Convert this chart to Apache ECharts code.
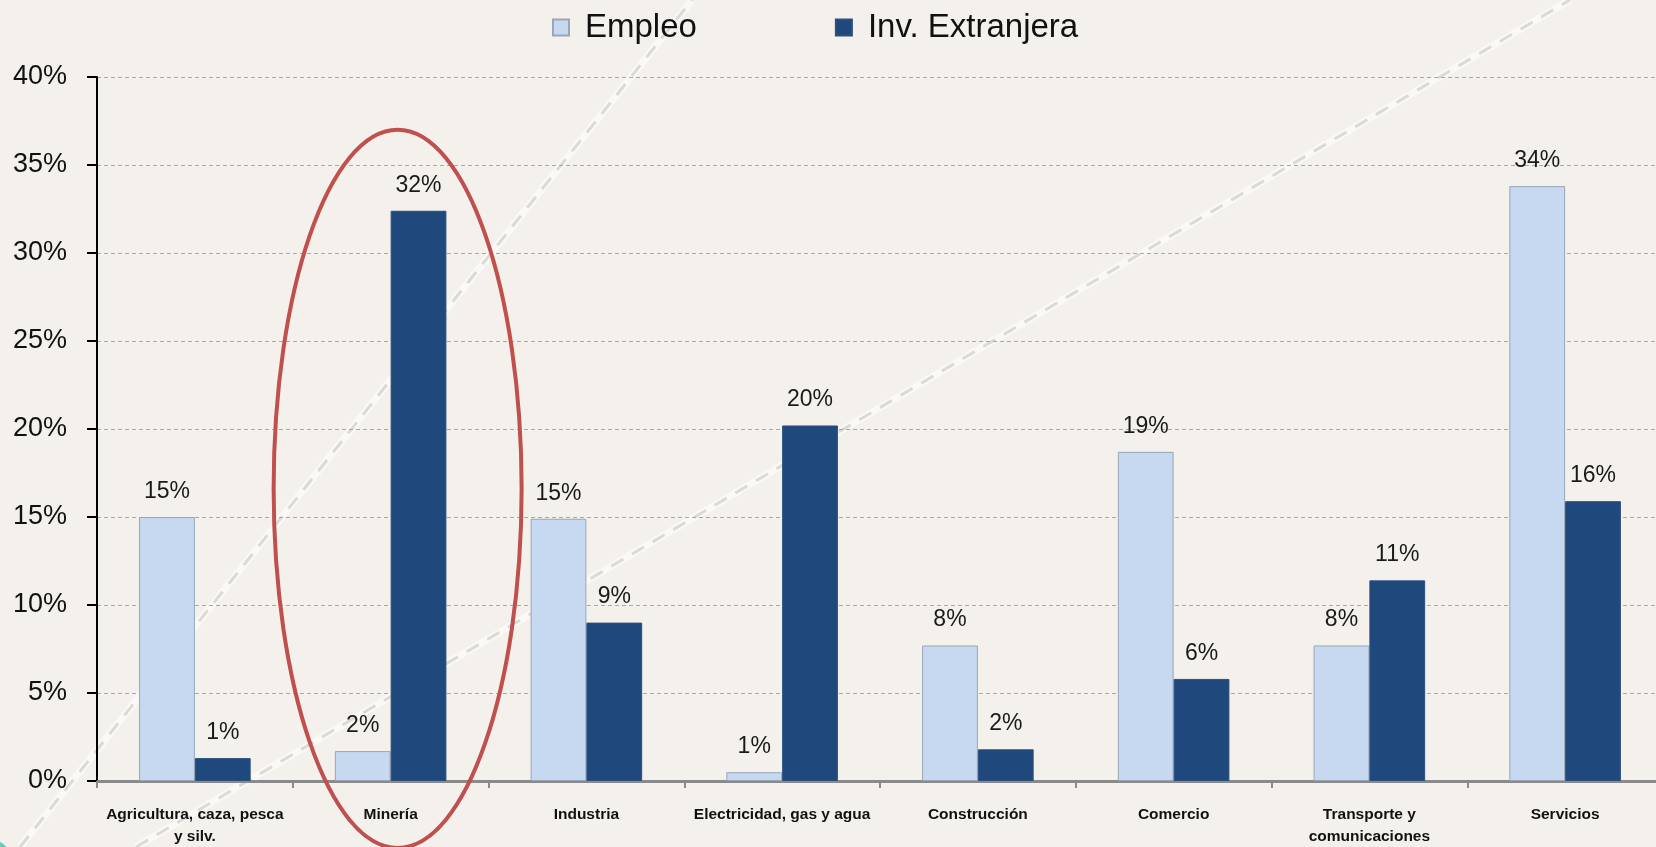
<!DOCTYPE html>
<html>
<head>
<meta charset="utf-8">
<script src="https://cdn.jsdelivr.net/npm/echarts@6/dist/echarts.min.js"></script>
<style>
  html, body { margin: 0; padding: 0; background: #f4f1ec; }
  #chart { width: 1656px; height: 847px; }
</style>
</head>
<body>
<div id="chart"></div>
<script>
// sectores
const categories = [
  'Agricultura, caza, pesca\ny silv.',
  'Minería',
  'Industria',
  'Electricidad, gas y agua',
  'Construcción',
  'Comercio',
  'Transporte y\ncomunicaciones',
  'Servicios'
];
const empleo = [15.0, 1.7, 14.9, 0.5, 7.7, 18.7, 7.7, 33.8];
const invExtranjera = [1.3, 32.4, 9.0, 20.2, 1.8, 5.8, 11.4, 15.9];
const seriesNames = ['Empleo', 'Inv. Extranjera'];

const FONT = "'Liberation Sans', Arial, sans-serif";

const chart = echarts.init(document.getElementById('chart'));

const labelStyle = {
  show: true,
  position: 'top',
  distance: 14,
  color: '#1a1a1a',
  fontFamily: FONT,
  fontSize: 23,
  formatter: p => Math.round(p.value) + '%'
};

const option = {
  backgroundColor: '#f4f1ec',
  animation: false,
  legend: {
    top: 11,
    left: 552,
    padding: 0,
    itemWidth: 16,
    itemHeight: 16,
    itemGap: 138,
    icon: 'rect',
    textStyle: {
      fontFamily: FONT,
      fontSize: 33,
      color: '#111',
      padding: [0, 0, 0, 11]
    },
    data: seriesNames
  },
  grid: {
    left: 97,
    right: -7,
    top: 77,
    bottom: 66,
    outerBoundsMode: 'none'
  },
  xAxis: {
    type: 'category',
    data: categories,
    axisLine: { lineStyle: { color: '#8a8a8a', width: 3 } },
    axisTick: { show: true, length: 7, lineStyle: { color: '#8a8a8a', width: 2 } },
    axisLabel: {
      interval: 0,
      margin: 23,
      fontFamily: FONT,
      fontWeight: 'bold',
      fontSize: 15.5,
      lineHeight: 22,
      color: '#111'
    }
  },
  yAxis: {
    type: 'value',
    min: 0,
    max: 40,
    interval: 5,
    axisLine: { show: true, lineStyle: { color: '#000', width: 2 } },
    axisTick: { show: true, length: 10, lineStyle: { color: '#000', width: 2 } },
    axisLabel: {
      margin: 30,
      fontFamily: FONT,
      fontSize: 27,
      color: '#111',
      formatter: '{value}%'
    },
    splitLine: { lineStyle: { color: '#a8a8a8', type: [4, 3], width: 1 } }
  },
  series: [
    {
      name: seriesNames[0],
      type: 'bar',
      data: empleo,
      barGap: '0%',
      barCategoryGap: '43%',
      itemStyle: { color: '#c6d9f1', borderColor: '#98a6b8', borderWidth: 1 },
      label: labelStyle
    },
    {
      name: seriesNames[1],
      type: 'bar',
      data: invExtranjera,
      itemStyle: { color: '#1f497d', borderColor: '#2c4f7c', borderWidth: 1 },
      label: labelStyle
    }
  ]
};

chart.setOption(option);

// decoración de fondo y elipse sobre Minería
const centro = chart.convertToPixel({ xAxisIndex: 0, yAxisIndex: 0 }, [1, 16.6]);
const arriba = chart.convertToPixel({ yAxisIndex: 0 }, 37);
const rx = 124;
const ry = centro[1] - arriba;

chart.setOption({
  graphic: [
    { type: 'line', z: -10, silent: true,
      shape: { x1: 20, y1: 847, x2: 692, y2: 0 },
      style: { stroke: 'rgba(255,255,255,0.6)', lineWidth: 7 } },
    { type: 'line', z: -9, silent: true,
      shape: { x1: 20, y1: 847, x2: 692, y2: 0 },
      style: { stroke: '#dcdad5', lineWidth: 3, lineDash: [14, 10] } },
    { type: 'line', z: -10, silent: true,
      shape: { x1: 136, y1: 847, x2: 1570, y2: 0 },
      style: { stroke: 'rgba(255,255,255,0.6)', lineWidth: 7 } },
    { type: 'line', z: -9, silent: true,
      shape: { x1: 136, y1: 847, x2: 1570, y2: 0 },
      style: { stroke: '#dcdad5', lineWidth: 3, lineDash: [14, 10] } },
    { type: 'circle', z: -8, silent: true,
      shape: { cx: -14, cy: 866, r: 28 },
      style: { fill: '#6ccbb9' } },
    { type: 'ellipse', z: 100, silent: true,
      shape: { cx: centro[0] + 7, cy: centro[1], rx: rx, ry: ry },
      style: { fill: 'none', stroke: '#c0504d', lineWidth: 4 } }
  ]
});
</script>
</body>
</html>
